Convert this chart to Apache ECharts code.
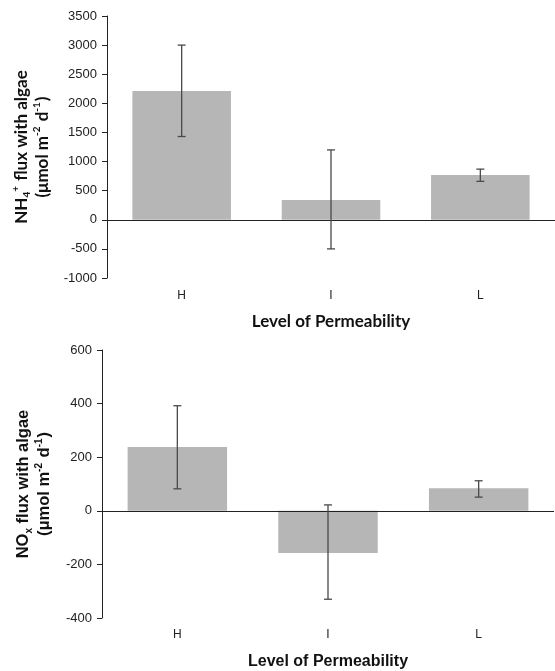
<!DOCTYPE html>
<html>
<head>
<meta charset="utf-8">
<script src="https://cdn.jsdelivr.net/npm/echarts@6/dist/echarts.min.js"></script>
<style>
  html, body { margin: 0; padding: 0; background: #fff; }
  #chart { width: 555px; height: 671px; }
</style>
</head>
<body>
<div id="chart"></div>
<script>
// categories (level of permeability)
var categories = ['H', 'I', 'L'];

// NH4+ flux with algae (umol m-2 d-1)
var nh4Mean = [2210, 340, 770];
var nh4Low = [1430, -500, 660];
var nh4High = [3000, 1200, 870];

// NOx flux with algae (umol m-2 d-1)
var noxMean = [238, -157, 84];
var noxLow = [82, -330, 51];
var noxHigh = [392, 22, 112];

// tick settings
var nh4Ticks = { min: -1000, max: 3500, interval: 500 };
var noxTicks = { min: -400, max: 600, interval: 200 };

var barColor = '#b6b6b6';
var errColor = '#4a4a4a';
var axisColor = '#222';

// error bars: vertical line + small caps
function errorData(low, high) {
    var arr = [];
    for (var i = 0; i < low.length; i++) {
        arr.push([i, low[i], high[i]]);
    }
    return arr;
}
function renderError(params, api) {
    var x = api.value(0);
    var lo = api.coord([x, api.value(1)]);
    var hi = api.coord([x, api.value(2)]);
    var cap = 4;
    var style = { stroke: errColor, lineWidth: 1.3 };
    return {
        type: 'group',
        children: [
            { type: 'line', shape: { x1: hi[0], y1: hi[1], x2: lo[0], y2: lo[1] }, style: style },
            { type: 'line', shape: { x1: hi[0] - cap, y1: hi[1], x2: hi[0] + cap, y2: hi[1] }, style: style },
            { type: 'line', shape: { x1: lo[0] - cap, y1: lo[1], x2: lo[0] + cap, y2: lo[1] }, style: style }
        ]
    };
}

var supSub = {
    sup: { fontSize: 10, fontWeight: 'bold', verticalAlign: 'top', padding: [0, 1, 7, 0] },
    sub: { fontSize: 10, fontWeight: 'bold', verticalAlign: 'bottom', padding: [7, 0, 0, 0] }
};

function xAxisOf(gridIndex, labelSize, labelMargin, nameGap, nameFont, nameSize) {
    return {
        type: 'category',
        gridIndex: gridIndex,
        data: categories,
        axisLine: { show: false, onZero: false },
        axisTick: { show: false },
        axisLabel: { color: axisColor, fontSize: labelSize, fontFamily: 'Liberation Sans', margin: labelMargin },
        name: 'Level of Permeability',
        nameLocation: 'middle',
        nameGap: nameGap,
        nameTextStyle: { color: '#111', fontSize: nameSize, fontWeight: 'bold', fontFamily: nameFont }
    };
}

function yAxisOf(gridIndex, ticks, name, nameFont, nameSize, nameGap) {
    return {
        type: 'value',
        gridIndex: gridIndex,
        min: ticks.min,
        max: ticks.max,
        interval: ticks.interval,
        splitLine: { show: false },
        axisLine: { show: true, lineStyle: { color: axisColor, width: 1 } },
        axisTick: { show: true, length: 5, lineStyle: { color: axisColor } },
        axisLabel: {
            color: axisColor, fontSize: 13, fontFamily: 'Liberation Sans', margin: 10,
            formatter: function (v) { return String(v); }
        },
        name: name,
        nameLocation: 'middle',
        nameRotate: 90,
        nameGap: nameGap,
        nameTextStyle: {
            color: '#111', fontSize: nameSize, fontWeight: 'bold', fontFamily: nameFont,
            lineHeight: 21, align: 'center', rich: supSub
        }
    };
}

function zeroLine() {
    return {
        silent: true,
        symbol: 'none',
        label: { show: false },
        lineStyle: { color: '#222', width: 1.2, type: 'solid' },
        data: [{ yAxis: 0 }]
    };
}

var chart = echarts.init(document.getElementById('chart'));
chart.setOption({
    animation: false,
    grid: [
        { left: 107, top: 16, right: 0, height: 262 },
        { left: 102, top: 350, right: 1, height: 269 }
    ],
    xAxis: [
        xAxisOf(0, 12, 12, 35, 'Lato', 17),
        xAxisOf(1, 12, 11, 36, 'Liberation Sans', 16)
    ],
    yAxis: [
        yAxisOf(0, nh4Ticks, 'NH{sub|4}{sup|+} flux with algae\n(μmol m{sup|-2} d{sup|-1})', 'Lato', 17, 54),
        yAxisOf(1, noxTicks, 'NO{sub|x} flux with algae\n(μmol m{sup|-2} d{sup|-1})', 'Liberation Sans', 16.5, 46)
    ],
    series: [
        {
            type: 'bar', xAxisIndex: 0, yAxisIndex: 0, data: nh4Mean,
            barWidth: '66%', itemStyle: { color: barColor }, markLine: zeroLine()
        },
        {
            type: 'custom', xAxisIndex: 0, yAxisIndex: 0,
            data: errorData(nh4Low, nh4High), renderItem: renderError, z: 5
        },
        {
            type: 'bar', xAxisIndex: 1, yAxisIndex: 1, data: noxMean,
            barWidth: '66%', itemStyle: { color: barColor }, markLine: zeroLine()
        },
        {
            type: 'custom', xAxisIndex: 1, yAxisIndex: 1,
            data: errorData(noxLow, noxHigh), renderItem: renderError, z: 5
        }
    ]
});
</script>
</body>
</html>
